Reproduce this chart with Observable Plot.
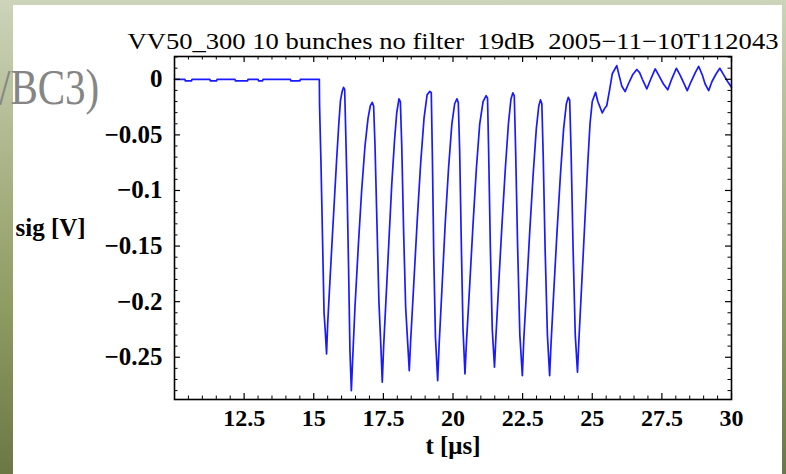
<!DOCTYPE html>
<html>
<head>
<meta charset="utf-8">
<script src="https://cdn.jsdelivr.net/npm/d3@7"></script>
<script src="https://cdn.jsdelivr.net/npm/@observablehq/plot@0.6"></script>
<style>
  html, body { margin: 0; padding: 0; }
  body {
    width: 786px; height: 474px; overflow: hidden; position: relative;
    background: linear-gradient(180deg, #ccd4ba 0%, #aab487 35%, #8e9b62 65%, #6b7846 100%);
  }
  #panel { position: absolute; left: 13px; top: 5px; width: 769px; height: 469px; background: #ffffff; }
  #chart { position: absolute; left: 0; top: 0; }
  #ghost { position: absolute; left: -1px; top: 63px; font-family: "Liberation Serif", serif; font-size: 41px; line-height: 1;
           color: #858585; white-space: nowrap; transform: scaleY(1.22); transform-origin: left top; }
</style>
</head>
<body>
<div id="panel"></div>
<div id="chart"></div>
<div id="ghost">/BC3)</div>
<script>
// --- data ---
const title = "VV50_300 10 bunches no filter  19dB  2005\u221211\u221210T112043";
const xLabel = "t [\u03bcs]";
const yLabel = "sig [V]";

const xTickLabels = [12.5, 15, 17.5, 20, 22.5, 25, 27.5, 30];
const yTickLabels = [0, -0.05, -0.1, -0.15, -0.2, -0.25];

const time = [
  10.00,10.37,10.39,10.61,10.63,
  11.27,11.29,11.51,11.53,
  12.17,12.19,12.62,12.64,
  13.00,13.02,13.16,13.18,
  14.16,14.18,14.50,14.52,
  15.20,
  15.21,15.26,15.31,15.37,15.41,15.46,15.50,
  15.58,15.66,15.74,15.82,15.90,15.96,16.02,16.07,16.11,
  16.14,16.20,16.25,16.30,16.35,
  16.40,16.48,16.60,16.72,16.84,16.95,17.03,17.10,17.15,
  17.20,17.27,17.34,17.41,17.46,
  17.51,17.60,17.70,17.80,17.90,17.98,18.06,18.11,
  18.16,18.23,18.30,18.38,18.43,
  18.48,18.60,18.72,18.84,18.96,19.07,19.17,19.22,
  19.26,19.31,19.37,19.45,
  19.50,19.60,19.72,19.84,19.96,20.06,20.14,20.19,
  20.24,20.30,20.36,20.43,
  20.48,20.60,20.72,20.84,20.96,21.08,21.19,21.24,
  21.28,21.34,21.41,21.49,
  21.54,21.64,21.76,21.88,21.99,22.08,22.15,22.20,
  22.25,22.32,22.40,22.49,
  22.54,22.64,22.76,22.88,22.99,23.08,23.14,23.19,
  23.24,23.31,23.39,23.47,
  23.52,23.62,23.74,23.86,23.97,24.07,24.14,24.19,
  24.24,24.31,24.39,24.47,
  24.52,24.62,24.74,24.84,24.92,25.00,25.12,25.20,25.36,25.45,
  25.52,25.62,25.72,25.88,25.96,26.06,26.18,26.30,26.45,26.60,
  26.70,26.80,26.96,27.10,27.26,27.40,27.55,27.71,27.85,28.02,
  28.15,28.28,28.41,28.55,28.70,28.82,28.95,29.05,29.18,29.30,
  29.45,29.58,29.72,29.86,30.00
];

const signal = [
  0,0,-0.0015,-0.0015,0,
  0,-0.0015,-0.0015,0,
  0,-0.0015,-0.0015,0,
  0,-0.0015,-0.0015,0,
  0,-0.0015,-0.0015,0,
  0,
  -0.025,-0.076,-0.137,-0.210,-0.225,-0.247,-0.220,
  -0.182,-0.145,-0.109,-0.073,-0.040,-0.019,-0.011,-0.0072,-0.009,
  -0.039,-0.102,-0.169,-0.244,-0.280,
  -0.250,-0.205,-0.150,-0.100,-0.060,-0.035,-0.024,-0.0207,-0.024,
  -0.060,-0.130,-0.200,-0.240,-0.2725,
  -0.240,-0.195,-0.145,-0.095,-0.055,-0.030,-0.0176,-0.020,
  -0.060,-0.140,-0.205,-0.240,-0.262,
  -0.235,-0.180,-0.125,-0.075,-0.035,-0.014,-0.0108,-0.012,
  -0.070,-0.160,-0.232,-0.271,
  -0.240,-0.190,-0.130,-0.080,-0.040,-0.022,-0.0176,-0.021,
  -0.065,-0.150,-0.225,-0.265,
  -0.238,-0.185,-0.130,-0.080,-0.040,-0.020,-0.0147,-0.017,
  -0.065,-0.150,-0.225,-0.259,
  -0.232,-0.185,-0.130,-0.080,-0.040,-0.018,-0.0122,-0.015,
  -0.065,-0.150,-0.230,-0.2665,
  -0.235,-0.190,-0.135,-0.085,-0.045,-0.024,-0.0185,-0.022,
  -0.070,-0.155,-0.230,-0.2665,
  -0.238,-0.190,-0.135,-0.085,-0.045,-0.022,-0.0162,-0.019,
  -0.065,-0.150,-0.230,-0.2635,
  -0.235,-0.185,-0.125,-0.075,-0.040,-0.020,-0.0117,-0.020,-0.0302,-0.026,
  -0.0238,-0.010,0.005,0.0123,0.004,-0.006,-0.0111,-0.004,0.004,0.0088,
  0.006,0.000,-0.0086,0.000,0.0093,0.003,-0.004,-0.0095,0.000,0.0099,
  0.004,-0.003,-0.0102,-0.002,0.006,0.0117,0.004,-0.004,-0.0102,-0.002,
  0.005,0.0099,0.004,-0.002,-0.0072
];

// --- chart ---
const W = 786, H = 474;
const mL = 174, mR = 55, mT = 56, mB = 75;
const innerW = W - mL - mR, innerH = H - mT - mB;

const rows = time.map((t, i) => ({t, v: signal[i]}));
const xMinor = d3.range(10.5, 30, 0.5).map(d => +d.toFixed(2)).filter(d => !xTickLabels.includes(d));
const yMinor = d3.range(-28, 3, 1).map(d => +(d / 100).toFixed(2)).filter(d => !yTickLabels.includes(d));
const fmt = d => String(d).replace("-", "\u2212");
const font = "'Liberation Serif', 'Times New Roman', serif";
const major = 6, minor = 3.5;

const chart = Plot.plot({
  width: W, height: H,
  marginLeft: mL, marginRight: mR, marginTop: mT, marginBottom: mB,
  style: {background: "transparent", fontFamily: font, color: "#000"},
  x: {domain: [10, 30]},
  y: {domain: [-0.288, 0.0205]},
  marks: [
    // data
    Plot.line(rows, {x: "t", y: "v", stroke: "#1a1aff", strokeWidth: 1.7}),
    // inward ticks (bottom, top, left, right)
    Plot.tickX(xTickLabels, {x: d => d, insetTop: innerH - major, stroke: "#000", strokeWidth: 1.2}),
    Plot.tickX(xMinor, {x: d => d, insetTop: innerH - minor, stroke: "#000", strokeWidth: 1}),
    Plot.tickX(xTickLabels, {x: d => d, insetBottom: innerH - major, stroke: "#000", strokeWidth: 1.2}),
    Plot.tickX(xMinor, {x: d => d, insetBottom: innerH - minor, stroke: "#000", strokeWidth: 1}),
    Plot.tickY(yTickLabels, {y: d => d, insetRight: innerW - major, stroke: "#000", strokeWidth: 1.2}),
    Plot.tickY(yMinor, {y: d => d, insetRight: innerW - minor, stroke: "#000", strokeWidth: 1}),
    Plot.tickY(yTickLabels, {y: d => d, insetLeft: innerW - major, stroke: "#000", strokeWidth: 1.2}),
    Plot.tickY(yMinor, {y: d => d, insetLeft: innerW - minor, stroke: "#000", strokeWidth: 1}),
    Plot.frame({stroke: "#000", strokeWidth: 1.6}),
    // tick labels
    Plot.axisX(xTickLabels, {anchor: "bottom", tickSize: 0, tickPadding: 9, tickFormat: fmt, label: null,
      fontSize: 24, fontWeight: "bold", fill: "#000"}),
    Plot.axisY(yTickLabels, {anchor: "left", tickSize: 0, tickPadding: 12, tickFormat: fmt, label: null,
      fontSize: 25, fontWeight: "bold", fill: "#000"}),
    // labels & title
    Plot.text([xLabel], {frameAnchor: "bottom", dy: 54, text: d => d, fontSize: 25, fontWeight: "bold", fill: "#000"}),
    Plot.text([yLabel], {frameAnchor: "left", dx: -159, textAnchor: "start", text: d => d, fontSize: 25, fontWeight: "bold", fill: "#000"}),
    Plot.text([title], {frameAnchor: "top", dy: -24, text: d => d, fontSize: 23, fill: "#000"})
  ]
});
// the reference's title is drawn slightly wider than the font's natural width
for (const el of chart.querySelectorAll("text")) {
  if (el.textContent === title) {
    el.setAttribute("textLength", 651);
    el.setAttribute("lengthAdjust", "spacingAndGlyphs");
  }
}
document.getElementById("chart").append(chart);
</script>
</body>
</html>
